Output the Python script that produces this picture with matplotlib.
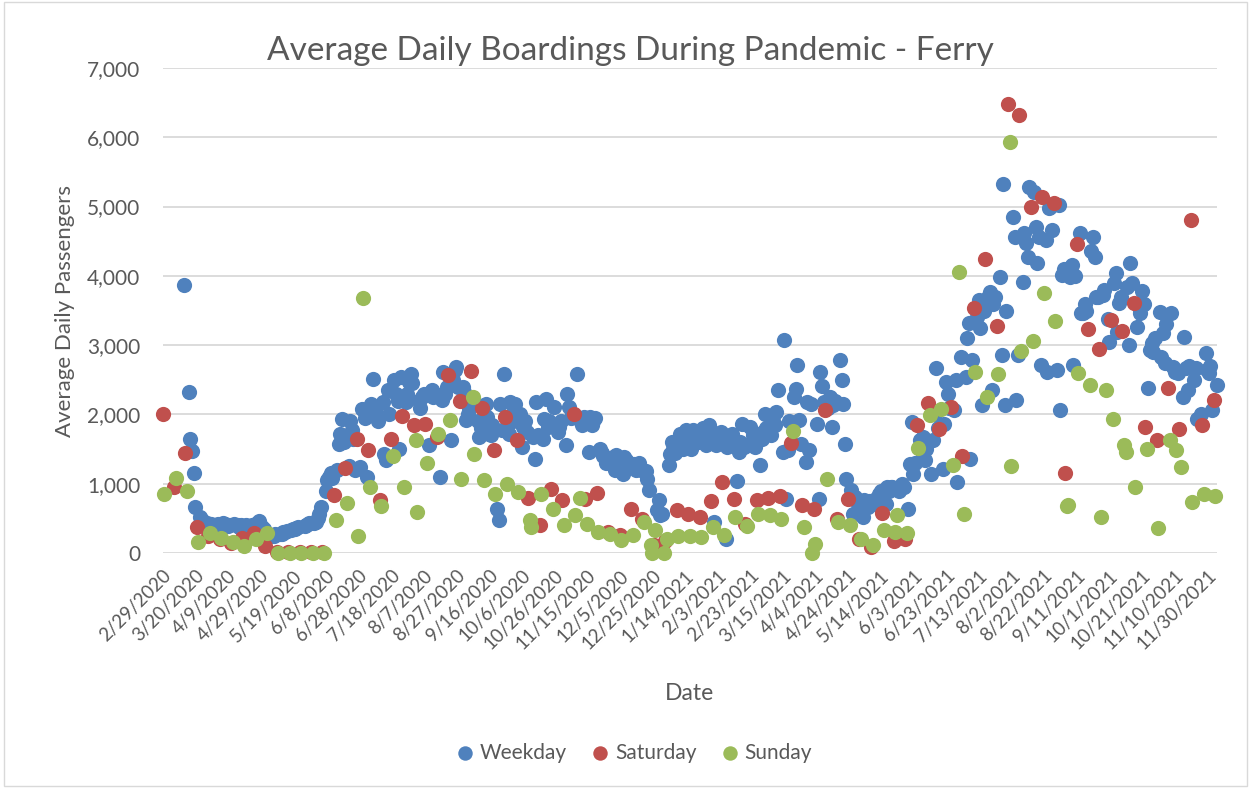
import numpy as np
import pandas as pd
import matplotlib
matplotlib.use("Agg")
import matplotlib.pyplot as plt
from matplotlib.patches import Rectangle

plt.rcParams['font.family'] = ['Lato', 'DejaVu Sans']

start = pd.Timestamp('2020-02-29')   # a Saturday
end = pd.Timestamp('2021-12-06')

# weekly Saturday / Sunday values (week k starts on Saturday start + 7k)
saturday = [2000, 960, 1440, 380, 250, 200, 145, 215, 290, 105,
            15, 15, 15, 15, 15, 833, 1220, 1640, 1490, 770,
            1650, 1980, 1853, 1868, 1675, 2575, 2195, 2628, 2094, 1483,
            1964, 1637, 794, 409, 929, 760, 2003, 785, 867, 303,
            255, 640, 495, 120, 180, 626, 568, 520, 751, 1025,
            785, 424, 760, 799, 818, 1590, 688, 640, 2060, 496,
            775, 207, 90, 578, 173, 197, 1845, 2168, 1797, 2110,
            1402, 3531, 4244, 3280, 6479, 6325, 4995, 5144, 5048, 1161,
            4460, 3227, 2943, 3362, 3203, 3603, 1821, 1638, 2375, 1797,
            4808, 1845, 2206]

sunday = [850, 1080, 900, 165, 290, 215, 165, 105, 200, 290,
          0, 0, 0, 0, 0, 472, 727, 240, 953, 680,
          1396, 953, 1627, 1300, 1723, 1916, 1073, 2253, 1059, 857,
          1001, 880, 470, 857, 640, 400, 544, 424, 303, 270,
          193, 255, 447, 327, 207, 240, 240, 235, 375, 255,
          520, 385, 558, 544, 496, 1762, 375, 125, 1064, 448,
          409, 207, 111, 328, 303, 289, 1517, 1999, 2076, 1276,
          568, 2606, 2254, 2577, 5930, 2919, 3059, 3747, 3352, 679,
          2601, 2423, 520, 1932, 1556, 953, 1508, 361, 1628, 1243,
          737, 857, 824]

# holidays / special days drawn with the Sunday series
holiday_dates = ['2020-07-01', '2020-08-03', '2020-09-07', '2020-10-12', '2020-11-11',
                 '2020-12-24', '2020-12-25', '2021-01-01', '2021-04-02', '2021-05-24',
                 '2021-07-01', '2021-08-02', '2021-09-06', '2021-09-29', '2021-10-11',
                 '2021-11-11']
holiday_vals = [3675, 592, 1434, 375, 794,
                110, 0, 0, 0, 544,
                4051, 1257, 700, 2350, 1460,
                1493]

nan = np.nan
# Monday..Friday values per week
weekday = [
    [nan, nan, nan, nan, nan], [nan, nan, nan, nan, 3870], [2320, 1650, 1475, 1160, 660],
    [520, 480, 450, 430, 430], [420, 400, 400, 410, 420], [430, 420, 400, 390, 410],
    [420, 410, 400, 380, 400], [400, 390, 380, 380, 400], [430, 460, 400, 370, 350],
    [250, 260, 240, 250, 270], [270, 280, 300, 310, 320], [330, 340, 350, 360, 370],
    [nan, 390, 410, 420, 430], [430, 450, 500, 560, 660], [900, 1050, 1100, 1150, 1080],
    [1200, 1580, 1720, 1940, 1600], [1250, 1900, 1770, 1650, 1200], [1240, 2085, nan, 1950, 1100],
    [2157, 2517, 2100, 2000, 1900], [2180, 1435, 1340, 2350, 2013], [2495, 2300, 2200, 1506, 2540],
    [2180, 2300, 2470, 2590, 2450], [nan, 2200, 2100, 2253, 2300], [1555, 2300, 2350, 2250, 2300],
    [1097, 2205, 2614, 2300, 2400], [1627, 2500, 2638, 2686, 2400], [2397, 2325, 1916, 2013, 2100],
    [nan, 2157, 1900, 1675, 1800], [2157, 1964, 1723, 1700, 1850], [640, 472, 2157, 1771, 2590],
    [1723, 2180, 2000, 1900, 2150], [2013, 1531, 1820, 1900, 1750], [nan, 1675, 1353, 2180, 1700],
    [1650, 1940, 2229, 1820, 1900], [2109, 1820, 1750, 1820, 1900], [1555, 2300, 2109, 1950, 2000],
    [2590, 1940, nan, 1844, 1964], [1459, 1964, 1844, 1900, 1950], [1507, 1450, 1400, nan, 1300],
    [1338, 1387, 1194, 1410, 1350], [1146, 1387, 1338, 1290, 1300], [1290, 1194, 1250, 1300, 1200],
    [1190, 1070, 903, nan, nan], [615, 760, 544, 568, nan], [1266, 1435, 1603, 1500, 1450],
    [1723, 1627, 1500, 1600, 1771], [1500, 1771, 1700, 1650, 1600], [1800, 1700, 1555, 1750, 1844],
    [448, 1555, 1651, 1700, 1750], [207, 1531, 1651, 1555, 1723], [1040, 1459, 1603, 1868, 1531],
    [1555, 1820, 1603, 1700, 1531], [1266, 1650, 1750, 2013, 1800], [1700, 1900, 1844, 2037, 2350],
    [1459, 3071, 785, 1483, 1900], [2253, 2373, 2710, 1916, 1579], [1314, 2181, 1492, 2150, nan],
    [1868, 785, 2614, 2407, 2181], [2100, 2253, 1820, 2133, 2200], [2783, 2494, 2150, 1579, 1064],
    [905, 568, 809, 760, 712], [520, 760, 700, 664, 750], [760, 713, 800, 850, 900],
    [713, 955, 900, 950, 955], [nan, 900, 950, 1000, 955], [640, 1290, 1893, 1146, 1300],
    [1628, 1363, 1676, 1340, 1500], [1146, 1628, 2013, 2664, 1800], [1219, 1869, 2471, 2302, 2100],
    [2062, 2495, 1026, nan, 2832], [2543, 3097, 3314, 1363, 2784], [3410, 3651, 3242, 2134, 3500],
    [3699, 3771, 2350, 3600, 3700], [3988, 2856, 5327, 2134, 3500], [nan, 4855, 4566, 2206, 2856],
    [3916, 4614, 4470, 4277, 5289], [5217, 4711, 4181, 4566, 2712], [4518, 2616, 4976, 5000, 4663],
    [2640, 5024, 2071, 4013, 4100], [nan, 3988, 4157, 2712, 4000], [4624, 3459, 3458, 3600, 3500],
    [4364, 4566, 4277, 3690, 3700], [3723, 3796, nan, 3377, 3050], [3892, 4037, 3194, 3603, 3700],
    [nan, 3844, 3001, 4181, 3900], [3266, 3555, 3458, 3781, 3600], [2375, 2929, 3025, 2900, 3100],
    [3483, 2832, 3170, 2736, 3300], [3459, 2688, 2616, nan, 2600], [2254, 3121, 2664, 2350, 2700],
    [2495, 2664, 1941, nan, 2013], [2880, 2640, 2600, 2700, 2062], [2423, nan, nan, nan, nan],
]

# dates for each series
n_weeks = len(saturday)
sat_dates = [start + pd.Timedelta(days=7 * k) for k in range(n_weeks)]
sun_dates = [start + pd.Timedelta(days=7 * k + 1) for k in range(n_weeks)]
wk_dates, wk_vals = [], []
for k, week in enumerate(weekday):
    for i, v in enumerate(week):
        d = start + pd.Timedelta(days=7 * k + 2 + i)
        if d <= end and not np.isnan(v):
            wk_dates.append(d)
            wk_vals.append(v)
sun_all = pd.Series(sunday, index=sun_dates)
sun_all = pd.concat([sun_all, pd.Series(holiday_vals, index=pd.to_datetime(holiday_dates))]).sort_index()

blue = '#4F81BD'
red = '#C0504D'
green = '#9BBB59'
grey = '#595959'

fig = plt.figure(figsize=(12.51, 7.88), dpi=100)
ax = fig.add_axes([0.1299, 0.2982, 0.8429, 0.6155])

ms = 120
ax.scatter(wk_dates, wk_vals, s=ms, color=blue, linewidths=0, label='Weekday', zorder=3, clip_on=False)
ax.scatter(sat_dates, saturday, s=ms, color=red, linewidths=0, label='Saturday', zorder=4, clip_on=False)
ax.scatter(sun_all.index, sun_all.values, s=ms, color=green, linewidths=0, label='Sunday', zorder=5,
           clip_on=False)

ax.set_ylim(0, 7000)
ax.set_yticks(range(0, 7001, 1000))
ax.set_yticklabels([f'{v:,}' for v in range(0, 7001, 1000)])
ax.set_xlim(start, end)
ticks = pd.date_range(start, periods=33, freq='20D')
ax.set_xticks(ticks)
ax.set_xticklabels([f'{d.month}/{d.day}/{d.year}' for d in ticks], rotation=45,
                   ha='right', rotation_mode='anchor')
ax.tick_params(length=0, colors=grey)
ax.tick_params(axis='y', labelsize=15, pad=16)
ax.tick_params(axis='x', labelsize=13.5, pad=10)
ax.grid(axis='y', color='#D9D9D9', linewidth=1.3)
ax.set_axisbelow(True)
for s in ax.spines.values():
    s.set_visible(False)

fig.text(0.504, 1 - 60 / 788, 'Average Daily Boardings During Pandemic - Ferry', fontsize=24,
         color=grey, ha='center', va='baseline')
ax.set_xlabel('Date', fontsize=16.5, color=grey, labelpad=22)
ax.set_ylabel('Average Daily Passengers', fontsize=16, color=grey, labelpad=9)

fig.legend(loc='center', bbox_to_anchor=(0.507, 0.045), ncol=3, frameon=False,
           fontsize=15, labelcolor=grey, handlelength=0.8, handletextpad=0.3,
           columnspacing=1.2, markerscale=0.95)

fig.add_artist(Rectangle((0.003, 0.003), 0.994, 0.994, transform=fig.transFigure,
                         fill=False, edgecolor='#D9D9D9', linewidth=1))

fig.savefig('out.png', dpi=100)
